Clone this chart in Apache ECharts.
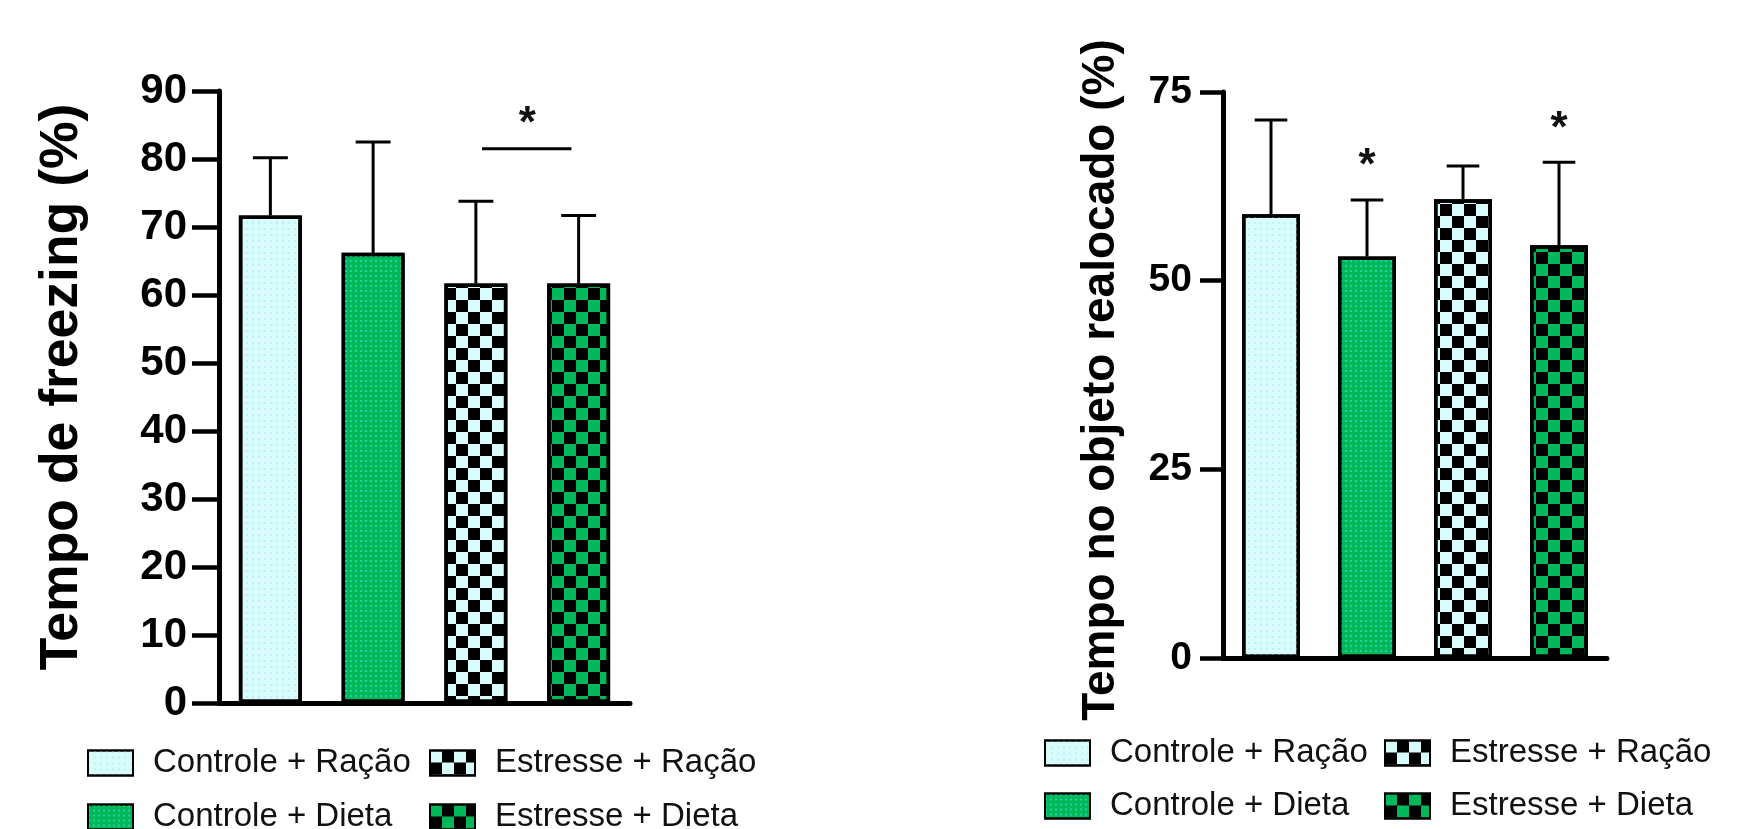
<!DOCTYPE html>
<html>
<head>
<meta charset="utf-8">
<script src="https://cdn.jsdelivr.net/npm/echarts@6/dist/echarts.min.js"></script>
<style>
  html, body { margin: 0; padding: 0; background: #fff; }
  #chart { width: 1756px; height: 829px; }
</style>
</head>
<body>
<div id="chart"></div>
<script>
// grupos (mesma ordem nos dois gráficos)
const categories = ['Controle + Ração', 'Controle + Dieta', 'Estresse + Ração', 'Estresse + Dieta'];

// tempo de freezing (%) - média e limite superior do erro
const freezingMean = [71.7, 66.2, 61.7, 61.7];
const freezingUpper = [80.2, 82.5, 73.8, 71.7];
const freezingTicks = { min: 0, max: 90, interval: 10 };
// [grupo A, grupo B, altura da linha, altura do *]
const freezingSig = [[2, 3, 81.5, 86.5]];

// tempo no objeto realocado (%)
const realocMean = [58.8, 53.2, 60.8, 54.7];
const realocUpper = [71.3, 60.7, 65.2, 65.7];
const realocTicks = { min: 0, max: 75, interval: 25 };
// [grupo, altura do *]
const realocStars = [[1, 66.4], [3, 71.3]];

const FONT = 'Liberation Sans, Arial, sans-serif';
const light = '#d8fcfc';
const green = '#00b85a';

// padrões: pontinhos nas barras lisas, xadrez nas de estresse
const checker = {
  symbol: 'rect', symbolSize: 1, color: '#000',
  dashArrayX: [[12, 12], [0, 12, 12, 0]], dashArrayY: [12, 0]
};
const groupStyle = [
  { color: light, borderColor: '#000', borderWidth: 3.5,
    decal: { symbol: 'rect', symbolSize: 1, color: '#bdf1f3', dashArrayX: [2, 4], dashArrayY: [2, 4] } },
  { color: green, borderColor: '#000', borderWidth: 3.5,
    decal: { symbol: 'rect', symbolSize: 1, color: '#1fd39c', dashArrayX: [2, 3], dashArrayY: [2, 3] } },
  { color: light, borderColor: '#000', borderWidth: 3.5, decal: checker },
  { color: green, borderColor: '#000', borderWidth: 3.5, decal: checker }
];

function barSeries(gi, means, barWidth) {
  return categories.map((name, i) => ({
    name: name,
    type: 'bar',
    xAxisIndex: gi,
    yAxisIndex: gi,
    stack: 'g' + gi,
    barWidth: barWidth,
    itemStyle: groupStyle[i],
    data: means.map((v, j) => (j === i ? v : '-')),
    animation: false
  }));
}

function errorSeries(gi, means, upper) {
  return {
    type: 'custom',
    xAxisIndex: gi,
    yAxisIndex: gi,
    z: 5,
    silent: true,
    data: means.map((v, i) => [i, v, upper[i]]),
    renderItem: function (params, api) {
      const x = api.value(0);
      const base = api.coord([x, api.value(1)]);
      const hi = api.coord([x, api.value(2)]);
      const half = api.size([1, 0])[0] * 0.17;
      const st = { stroke: '#000', lineWidth: 3 };
      return {
        type: 'group',
        children: [
          { type: 'line', shape: { x1: base[0], y1: base[1], x2: hi[0], y2: hi[1] }, style: st },
          { type: 'line', shape: { x1: hi[0] - half, y1: hi[1], x2: hi[0] + half, y2: hi[1] }, style: st }
        ]
      };
    },
    animation: false
  };
}

function starText(x, y) {
  return {
    type: 'text',
    x: x, y: y + 10,
    style: { text: '*', font: 'bold 44px ' + FONT, fill: '#111', align: 'center', verticalAlign: 'middle' }
  };
}

const sigSeries = {
  type: 'custom',
  xAxisIndex: 0,
  yAxisIndex: 0,
  z: 5,
  silent: true,
  data: freezingSig,
  renderItem: function (params, api) {
    const band = api.size([1, 0])[0];
    const a = api.coord([api.value(0), api.value(2)]);
    const b = api.coord([api.value(1), api.value(2)]);
    const s = api.coord([api.value(0), api.value(3)]);
    return {
      type: 'group',
      children: [
        { type: 'line', shape: { x1: a[0] + band * 0.06, y1: a[1], x2: b[0] - band * 0.07, y2: b[1] },
          style: { stroke: '#000', lineWidth: 3 } },
        starText((a[0] + b[0]) / 2, s[1])
      ]
    };
  },
  animation: false
};

const starSeries = {
  type: 'custom',
  xAxisIndex: 1,
  yAxisIndex: 1,
  z: 5,
  silent: true,
  data: realocStars,
  renderItem: function (params, api) {
    const p = api.coord([api.value(0), api.value(1)]);
    return starText(p[0], p[1]);
  },
  animation: false
};

function yAxis(gi, ticks, name, nameSize, nameGap, namePad, labelSize, tickLen, margin) {
  return {
    gridIndex: gi,
    type: 'value',
    min: ticks.min,
    max: ticks.max,
    interval: ticks.interval,
    z: 4,
    name: name,
    nameLocation: 'middle',
    nameGap: nameGap,
    nameTextStyle: { fontFamily: FONT, fontSize: nameSize, fontWeight: 'bold', color: '#000', padding: namePad },
    axisLine: { show: true, lineStyle: { color: '#000', width: 5 } },
    axisTick: { show: true, length: tickLen, lineStyle: { color: '#000', width: 4.5 } },
    axisLabel: { fontFamily: FONT, fontSize: labelSize, fontWeight: 'bold', color: '#000', margin: margin },
    splitLine: { show: false }
  };
}

function xAxis(gi) {
  return {
    gridIndex: gi,
    type: 'category',
    data: categories,
    z: 4,
    axisLine: { show: true, lineStyle: { color: '#000', width: 5 } },
    axisTick: { show: false },
    axisLabel: { show: false }
  };
}

// uma legenda por item, para alinhar as colunas como no original
function legend(left, centerY, name) {
  return {
    left: left,
    top: centerY - 19,
    padding: 0,
    icon: 'rect',
    itemWidth: 45,
    itemHeight: 25,
    selectedMode: false,
    data: [name],
    textStyle: { fontFamily: FONT, fontSize: 33, color: '#111', lineHeight: 38, padding: [0, 0, 0, 15] }
  };
}

const chart = echarts.init(document.getElementById('chart'));
chart.setOption({
  backgroundColor: '#fff',
  animation: false,
  grid: [
    { left: 219, top: 91, width: 411, height: 612 },
    { left: 1223, top: 92, width: 384, height: 566 }
  ],
  xAxis: [xAxis(0), xAxis(1)],
  yAxis: [
    yAxis(0, freezingTicks, 'Tempo de freezing (%)', 53.5, 130, [0, 0, 0, 20], 42, 27, 32),
    yAxis(1, realocTicks, 'Tempo no objeto realocado (%)', 46, 99, [0, 10, 0, 0], 39, 23, 31)
  ],
  legend: [
    legend(87, 763, categories[0]),
    legend(87, 817, categories[1]),
    legend(429, 763, categories[2]),
    legend(429, 817, categories[3]),
    legend(1044, 753, categories[0]),
    legend(1044, 806, categories[1]),
    legend(1384, 753, categories[2]),
    legend(1384, 806, categories[3])
  ],
  series: [].concat(
    barSeries(0, freezingMean, 63),
    barSeries(1, realocMean, 58),
    [errorSeries(0, freezingMean, freezingUpper), errorSeries(1, realocMean, realocUpper), sigSeries, starSeries]
  )
});
</script>
</body>
</html>
